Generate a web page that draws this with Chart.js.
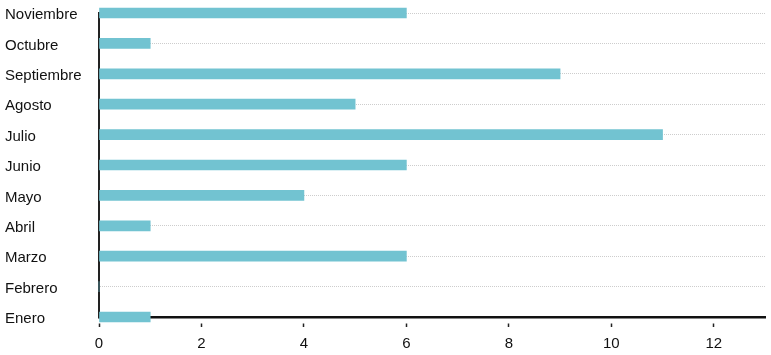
<!DOCTYPE html>
<html>
<head>
<meta charset="utf-8">
<script src="https://cdn.jsdelivr.net/npm/chart.js@4"></script>
<style>
  html, body { margin: 0; padding: 0; background: #fff; }
  #wrap { width: 771px; height: 355px; }
</style>
</head>
<body>
<div id="wrap"><canvas id="chart"></canvas></div>
<script>
const months = ['Enero', 'Febrero', 'Marzo', 'Abril', 'Mayo', 'Junio', 'Julio', 'Agosto', 'Septiembre', 'Octubre', 'Noviembre'];
const counts = [1, 0, 6, 1, 4, 6, 11, 5, 9, 1, 6];
const xTicks = [0, 2, 4, 6, 8, 10, 12];

const ctx = document.getElementById('chart').getContext('2d');
new Chart(ctx, {
  type: 'bar',
  data: {
    labels: months,
    datasets: [{
      data: counts,
      backgroundColor: '#72c3d1',
      barThickness: 10,
      clip: false
    }]
  },
  options: {
    indexAxis: 'y',
    responsive: true,
    maintainAspectRatio: false,
    animation: false,
    layout: { padding: { left: 5, right: 6, top: 13, bottom: 0 } },
    plugins: { legend: { display: false }, tooltip: { enabled: false } },
    scales: {
      x: {
        min: 0,
        max: 13,
        afterBuildTicks: axis => { axis.ticks = xTicks.map(v => ({ value: v })); },
        afterFit: axis => { axis.height = 38; },
        ticks: {
          color: '#111',
          font: { family: 'Liberation Sans, Arial', size: 15 },
          padding: 8
        },
        grid: {
          drawOnChartArea: false,
          drawTicks: true,
          tickLength: 10,
          tickColor: '#222',
          tickWidth: 1.5,
          tickBorderDash: [0, 5, 5, 100]
        },
        border: { display: true, color: '#111', width: 2.5 }
      },
      y: {
        reverse: true,
        offset: false,
        afterFit: axis => { axis.width = 94; },
        ticks: {
          crossAlign: 'far',
          labelOffset: 2,
          color: '#111',
          font: { family: 'Liberation Sans, Arial', size: 15 }
        },
        grid: {
          offset: false,
          color: '#cdcdcd',
          lineWidth: 1,
          drawTicks: false
        },
        border: { display: true, color: '#222', width: 2, dash: [1, 1] }
      }
    }
  }
});
</script>
</body>
</html>
